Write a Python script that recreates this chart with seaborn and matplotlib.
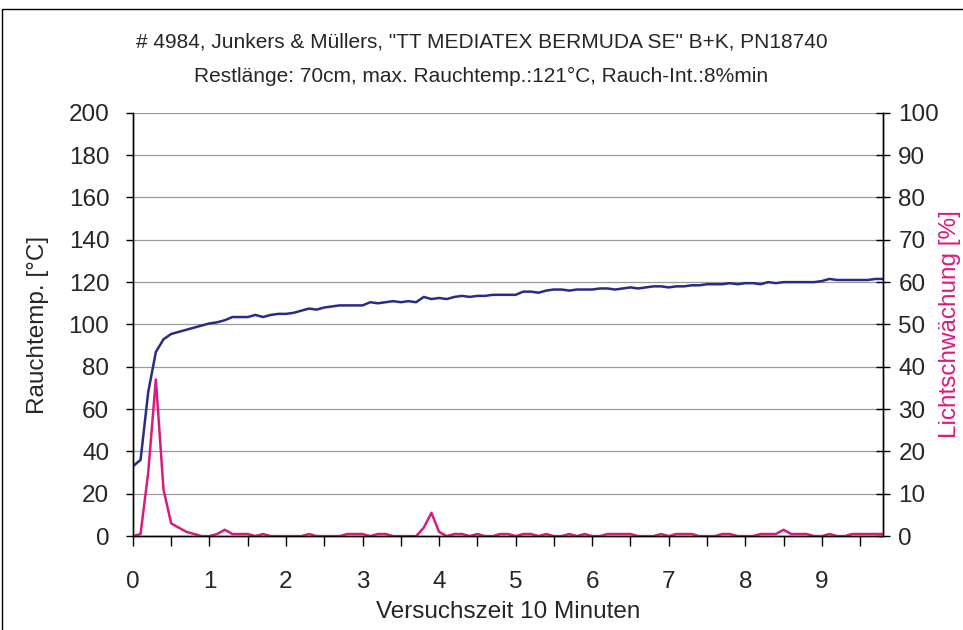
import numpy as np
import pandas as pd
import matplotlib
matplotlib.use("Agg")
import matplotlib.pyplot as plt
import seaborn as sns
from matplotlib.patches import Rectangle

# ------------------------------------------
# DATA (0.1 min steps)
# ------------------------------------------

TITLE_1 = '# 4984, Junkers & Müllers, "TT MEDIATEX BERMUDA SE" B+K, PN18740'
TITLE_2 = "Restlänge: 70cm, max. Rauchtemp.:121°C, Rauch-Int.:8%min"

time_min = np.round(np.arange(99) * 0.1, 1)

rauchtemp = [
    33, 36, 68, 87, 93, 95.5, 96.5, 97.5, 98.5, 99.5,
    100.5, 101, 102, 103.5, 103.5, 103.5, 104.5, 103.5, 104.5, 105,
    105, 105.5, 106.5, 107.5, 107, 108, 108.5, 109, 109, 109,
    109, 110.5, 110, 110.5, 111, 110.5, 111, 110.5, 113, 112,
    112.5, 112, 113, 113.5, 113, 113.5, 113.5, 114, 114, 114,
    114, 115.5, 115.5, 115, 116, 116.5, 116.5, 116, 116.5, 116.5,
    116.5, 117, 117, 116.5, 117, 117.5, 117, 117.5, 118, 118,
    117.5, 118, 118, 118.5, 118.5, 119, 119, 119, 119.5, 119,
    119.5, 119.5, 119, 120, 119.5, 120, 120, 120, 120, 120,
    120.5, 121.5, 121, 121, 121, 121, 121, 121.5, 121.5,
]

lichtschwaechung = [
    0, 0.5, 15, 37, 11, 3, 2, 1, 0.5, 0,
    0, 0.5, 1.5, 0.5, 0.5, 0.5, 0, 0.5, 0, 0,
    0, 0, 0, 0.5, 0, 0, 0, 0, 0.5, 0.5,
    0.5, 0, 0.5, 0.5, 0, 0, 0, 0, 2, 5.5,
    1, 0, 0.5, 0.5, 0, 0.5, 0, 0, 0.5, 0.5,
    0, 0.5, 0.5, 0, 0.5, 0, 0, 0.5, 0, 0.5,
    0, 0, 0.5, 0.5, 0.5, 0.5, 0, 0, 0, 0.5,
    0, 0.5, 0.5, 0.5, 0, 0, 0, 0.5, 0.5, 0,
    0, 0, 0.5, 0.5, 0.5, 1.5, 0.5, 0.5, 0.5, 0,
    0, 0.5, 0, 0, 0.5, 0.5, 0.5, 0.5, 0.5,
]

df = pd.DataFrame({
    "zeit": time_min,
    "temp": rauchtemp,
    "licht": lichtschwaechung,
})

# ------------------------------------------
# PLOT
# ------------------------------------------

sns.set_theme(style="white")
plt.rcParams["font.family"] = ["Liberation Sans", "DejaVu Sans"]

BLUE = "#2B2B86"
MAGENTA = "#D91A7F"
FS = 17.5

fig = plt.figure(figsize=(9.63, 6.3), dpi=100)
ax = fig.add_axes([0.138, 0.149, 0.779, 0.672])
ax2 = ax.twinx()

sns.lineplot(data=df, x="zeit", y="temp", ax=ax, color=BLUE, linewidth=1.8)
sns.lineplot(data=df, x="zeit", y="licht", ax=ax2, color=MAGENTA, linewidth=1.8)

ax.set_xlim(0, 9.8)
ax.set_ylim(0, 200)
ax2.set_ylim(0, 100)

ax.set_yticks(np.arange(0, 201, 20))
ax2.set_yticks(np.arange(0, 101, 10))
ax.set_xticks(np.arange(0, 10, 1))
ax.set_xticks(np.arange(0, 9.8, 0.5), minor=True)

ax.grid(axis="y", color="#9a9a9a", linewidth=0.9)
ax.set_axisbelow(True)

for a in (ax, ax2):
    for side in ("left", "right", "bottom"):
        a.spines[side].set_color("black")
        a.spines[side].set_linewidth(1.0)
    a.spines["top"].set_visible(False)

ax.tick_params(axis="y", which="major", direction="out", length=5, width=1,
               color="black", labelsize=FS, left=True, pad=12)
ax.tick_params(axis="x", which="both", direction="out", length=7, width=1,
               color="black", bottom=True)
ax.tick_params(axis="x", which="major", labelsize=FS, pad=18)
ax2.tick_params(axis="y", direction="inout", length=10, width=1,
                color="black", labelsize=FS, right=True, pad=6)

ax.set_xlabel("Versuchszeit 10 Minuten", fontsize=FS, labelpad=6)
ax.set_ylabel("Rauchtemp. [°C]", fontsize=FS, labelpad=14)
ax2.set_ylabel("Lichtschwächung [%]", fontsize=FS, color=MAGENTA, labelpad=0)

fig.text(0.5, 0.933, TITLE_1, ha="center", va="center", fontsize=15)
fig.text(0.5, 0.879, TITLE_2, ha="center", va="center", fontsize=15)

# thin chart border like the Excel chart area
fig.patches.append(Rectangle((0.002, -0.01), 1.2, 0.995, transform=fig.transFigure,
                             fill=False, edgecolor="black", linewidth=1.0))

fig.savefig("out.png", dpi=100)
